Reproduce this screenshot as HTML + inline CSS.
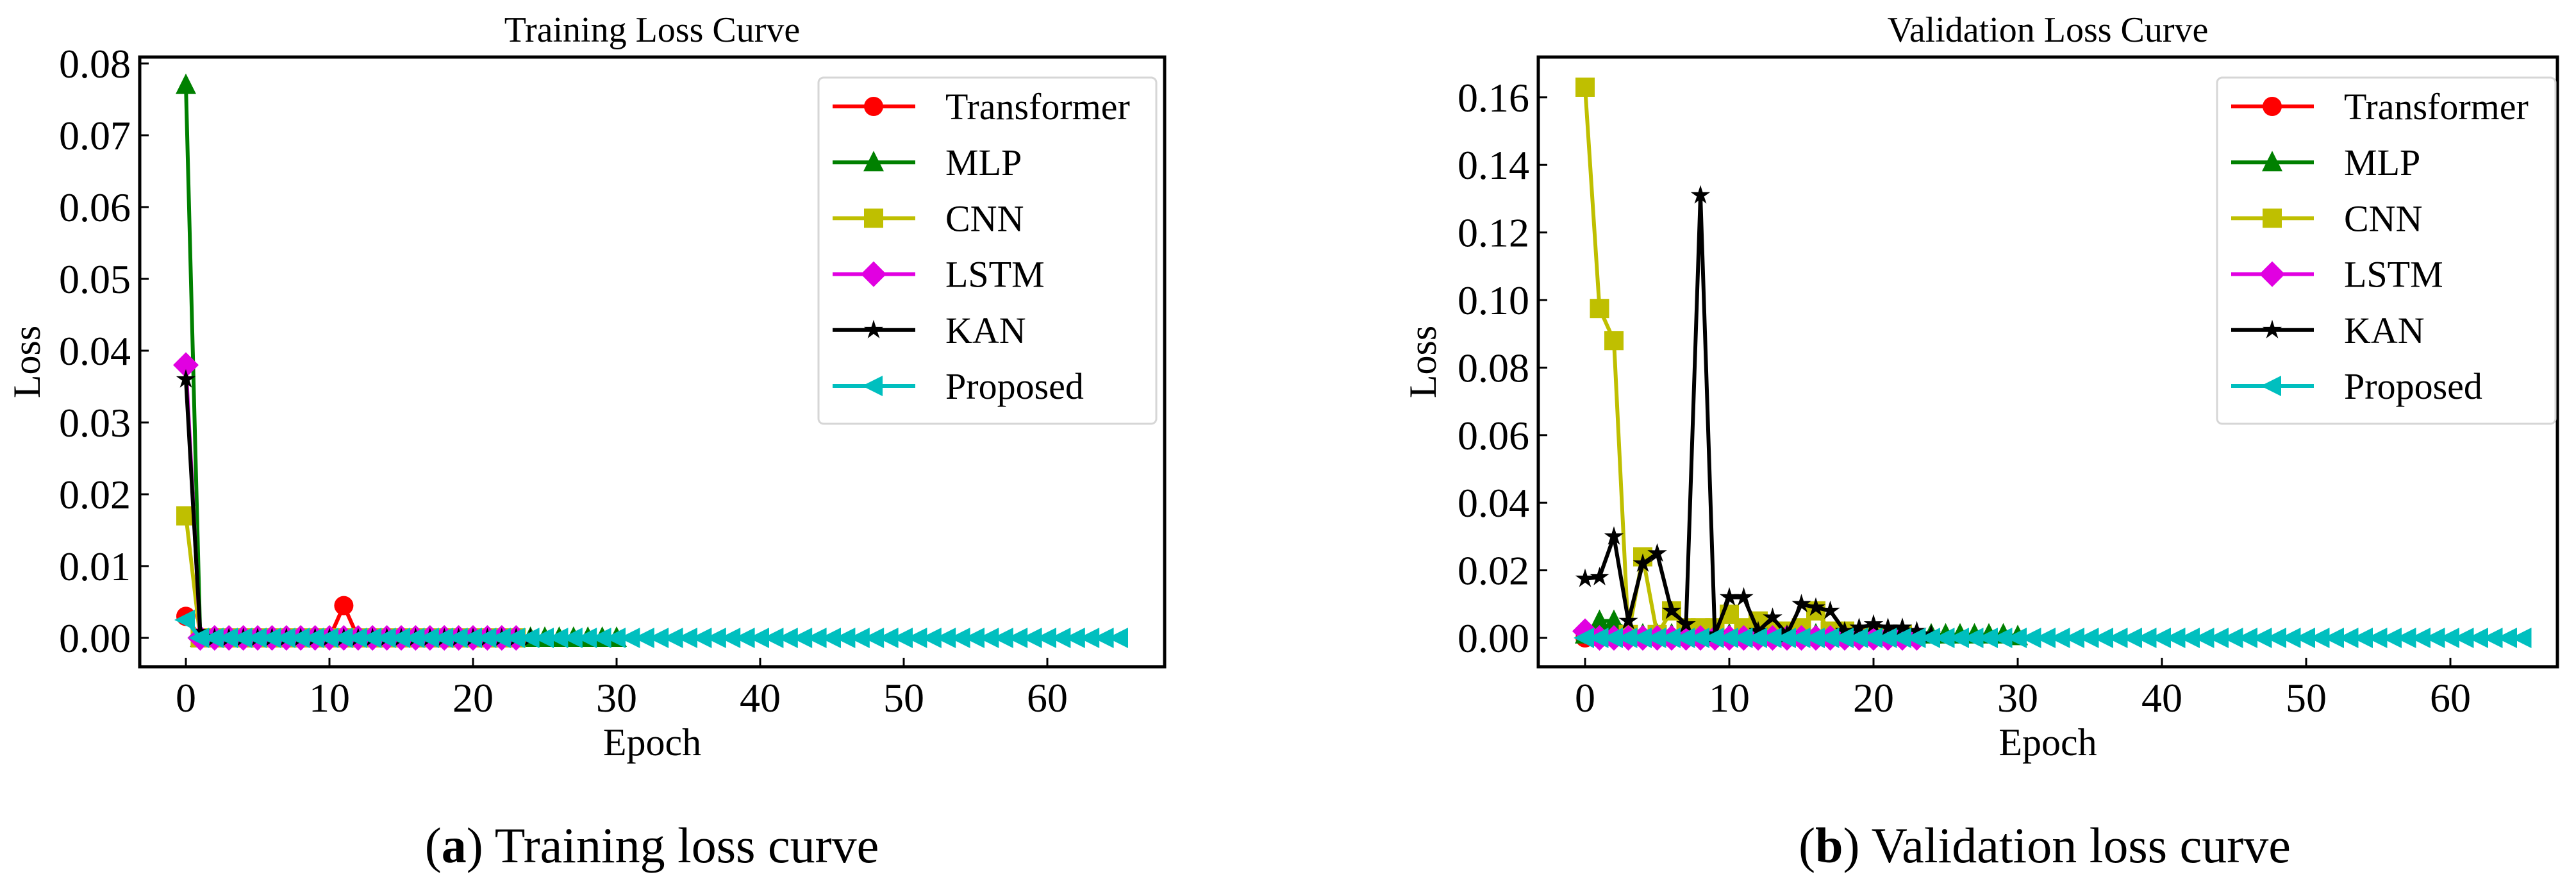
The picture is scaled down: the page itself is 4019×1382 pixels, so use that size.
<!DOCTYPE html>
<html><head><meta charset="utf-8"><style>
html,body{margin:0;padding:0;background:#fff;}
svg{display:block;font-family:"Liberation Serif","DejaVu Serif",serif;}
</style></head>
<body>
<svg id="fig" width="4019" height="1382" viewBox="0 0 4019 1382" xmlns="http://www.w3.org/2000/svg">
<rect width="4019" height="1382" fill="#fff"/>
<g id="left"></g>
<g id="right"></g>
<text x="1017" y="1345" font-size="78" text-anchor="middle">(<tspan font-weight="bold">a</tspan>) Training loss curve</text>
<text x="3190" y="1345" font-size="78" text-anchor="middle">(<tspan font-weight="bold">b</tspan>) Validation loss curve</text>
</svg>
<script>
const seriesNames = ["Transformer","MLP","CNN","LSTM","KAN","Proposed"];
const seriesColors = ["#ff0000","#008000","#bfbf00","#e100e1","#000000","#00bfbf"];
const seriesMarkers = ["circle","triUp","square","diamond","star","triLeft"];
const xTicks = [0,10,20,30,40,50,60];
const yTicksTrain = [0.00,0.01,0.02,0.03,0.04,0.05,0.06,0.07,0.08];
const yTickLabelsTrain = ["0.00","0.01","0.02","0.03","0.04","0.05","0.06","0.07","0.08"];
const yTicksVal = [0.00,0.02,0.04,0.06,0.08,0.10,0.12,0.14,0.16];
const yTickLabelsVal = ["0.00","0.02","0.04","0.06","0.08","0.10","0.12","0.14","0.16"];

const trTransformer = [0.003,0,0,0,0,0,0,0,0,0,0,0.0045,0,0,0,0,0,0,0,0,0,0,0,0];
const trMLP = [0.077,0,0,0,0,0,0,0,0,0,0,0,0,0,0,0,0,0,0,0,0,0,0,0,0,0,0,0,0,0,0];
const trCNN = [0.017,0,0,0,0,0,0,0,0,0,0,0,0,0,0,0,0,0,0,0,0,0,0,0];
const trLSTM = [0.038,0,0,0,0,0,0,0,0,0,0,0,0,0,0,0,0,0,0,0,0,0,0,0];
const trKAN = [0.036,0.0008,0,0,0,0,0,0,0,0,0,0,0,0,0,0,0,0,0,0,0,0,0,0,0];
const trProposed = [0.0025,0,0,0,0,0,0,0,0,0,0,0,0,0,0,0,0,0,0,0,0,0,0,0,0,0,0,0,0,0,0,0,0,0,0,0,0,0,0,0,0,0,0,0,0,0,0,0,0,0,0,0,0,0,0,0,0,0,0,0,0,0,0,0,0,0];

const vaTransformer = [0,0,0,0,0,0,0,0,0,0,0,0,0,0,0,0,0,0,0,0,0,0,0,0];
const vaMLP = [0.001,0.005,0.005,0.002,0.001,0.001,0.001,0.001,0.001,0.001,0.001,0.001,0.001,0.001,0.001,0.001,0.001,0.001,0.001,0.001,0.001,0.001,0.001,0.001,0.001,0.001,0.001,0.001,0.001,0.001,0.0005];
const vaCNN = [0.163,0.0975,0.088,0.001,0.024,0.001,0.008,0.003,0.003,0.003,0.007,0.003,0.005,0.002,0.002,0.003,0.008,0.002,0.002,0.001,0.001,0.001,0.001];
const vaLSTM = [0.002,0,0,0,0,0,0,0,0,0,0,0,0,0,0,0,0,0,0,0,0,0,0,0];
const vaKAN = [0.0175,0.018,0.030,0.005,0.022,0.025,0.008,0.004,0.131,0.001,0.012,0.012,0.002,0.006,0.001,0.010,0.009,0.008,0.002,0.003,0.004,0.003,0.003,0.002,0.001];
const vaProposed = [0,0,0,0,0,0,0,0,0,0,0,0,0,0,0,0,0,0,0,0,0,0,0,0,0,0,0,0,0,0,0,0,0,0,0,0,0,0,0,0,0,0,0,0,0,0,0,0,0,0,0,0,0,0,0,0,0,0,0,0,0,0,0,0,0,0];

const NS = "http://www.w3.org/2000/svg";
function mk(tag, attrs, parent){const e=document.createElementNS(NS,tag);for(const k in attrs)e.setAttribute(k,attrs[k]);if(parent)parent.appendChild(e);return e;}

function markerShape(type, cx, cy, color, parent){
  let e;
  if(type==="circle"){e=mk("circle",{cx:cx,cy:cy,r:15,fill:color},parent);}
  else if(type==="square"){e=mk("rect",{x:cx-15,y:cy-15,width:30,height:30,fill:color},parent);}
  else if(type==="triUp"){e=mk("polygon",{points:`${cx},${cy-18} ${cx-16},${cy+14} ${cx+16},${cy+14}`,fill:color},parent);}
  else if(type==="triLeft"){e=mk("polygon",{points:`${cx-18},${cy} ${cx+14},${cy-16} ${cx+14},${cy+16}`,fill:color},parent);}
  else if(type==="diamond"){e=mk("polygon",{points:`${cx},${cy-20} ${cx+20},${cy} ${cx},${cy+20} ${cx-20},${cy}`,fill:color},parent);}
  else {let p=[];for(let i=0;i<10;i++){const r=i%2?6:16;const a=-Math.PI/2+i*Math.PI/5;p.push((cx+r*Math.cos(a)).toFixed(1)+","+(cy+r*Math.sin(a)).toFixed(1));}
    e=mk("polygon",{points:p.join(" "),fill:color},parent);}
  
  
  return e;
}

function drawChart(g, cfg){
  const {L,R,T,B,x0,xStep,y0,yScale,yTicks,yLabels,data,title,legend} = cfg;
  const xs = e => x0 + e*xStep;
  const ys = v => y0 - v*yScale;
  const t = mk("text",{x:(L+R)/2,y:T-24,"font-size":56,"text-anchor":"middle"},g);
  t.textContent = title;
  
  
  data.forEach((arr,si)=>{
    const sg = mk("g",{},g);
    
    
    const pts = arr.map((v,i)=>xs(i).toFixed(1)+","+ys(v).toFixed(1)).join(" ");
    const pl = mk("polyline",{points:pts,fill:"none",stroke:seriesColors[si],"stroke-width":6,"stroke-linejoin":"round"},sg);
    
    
    arr.forEach((v,i)=>markerShape(seriesMarkers[si],xs(i),ys(v),seriesColors[si],sg));
  });
  const fr = mk("rect",{x:L,y:T,width:R-L,height:B-T,fill:"none",stroke:"#000","stroke-width":5},g);
  
  
  xTicks.forEach(v=>{
    const x=xs(v);
    const tk = mk("line",{x1:x,y1:B,x2:x,y2:B-14,stroke:"#000","stroke-width":3},g);
    
    
    const tl = mk("text",{x:x,y:B+70,"font-size":64,"text-anchor":"middle"},g);
    tl.textContent = String(v);
    
    
  });
  yTicks.forEach((v,i)=>{
    const y=ys(v);
    const tk = mk("line",{x1:L,y1:y,x2:L+14,y2:y,stroke:"#000","stroke-width":3},g);
    
    
    const tl = mk("text",{x:L-14,y:y+22,"font-size":64,"text-anchor":"end"},g);
    tl.textContent = yLabels[i];
    
    
  });
  const xl = mk("text",{x:(L+R)/2,y:B+138,"font-size":60,"text-anchor":"middle"},g);
  xl.textContent="Epoch";
  
  
  const yl = mk("text",{x:0,y:0,"font-size":60,"text-anchor":"middle",transform:`translate(${cfg.ylx},${(T+B)/2}) rotate(-90)`},g);
  yl.textContent="Loss";
  
  
  const lg = mk("g",{},g);
  
  
  mk("rect",{x:legend.x,y:121,width:legend.w,height:540,rx:8,fill:"#fff",stroke:"#d6d6d6","stroke-width":3},lg);
  seriesNames.forEach((n,i)=>{
    const y = 166 + i*87.2;
    const le = mk("g",{},lg);
    
    
    mk("line",{x1:legend.x+22,y1:y,x2:legend.x+151,y2:y,stroke:seriesColors[i],"stroke-width":6},le);
    markerShape(seriesMarkers[i],legend.x+86,y,seriesColors[i],le);
    const tx = mk("text",{x:legend.x+198,y:y+20,"font-size":58},le);
    tx.textContent=n;
    
    
  });
}

drawChart(document.getElementById("left"),{L:218,R:1817,T:89,B:1040,x0:290,xStep:22.4,y0:995,yScale:11200,
  yTicks:yTicksTrain,yLabels:yTickLabelsTrain,data:[trTransformer,trMLP,trCNN,trLSTM,trKAN,trProposed],
  title:"Training Loss Curve",legend:{x:1277,w:527},ylx:62});
drawChart(document.getElementById("right"),{L:2400,R:3990,T:89,B:1040,x0:2473,xStep:22.5,y0:995,yScale:5270,
  yTicks:yTicksVal,yLabels:yTickLabelsVal,data:[vaTransformer,vaMLP,vaCNN,vaLSTM,vaKAN,vaProposed],
  title:"Validation Loss Curve",legend:{x:3459,w:528},ylx:2240});
</script>
</body></html>
